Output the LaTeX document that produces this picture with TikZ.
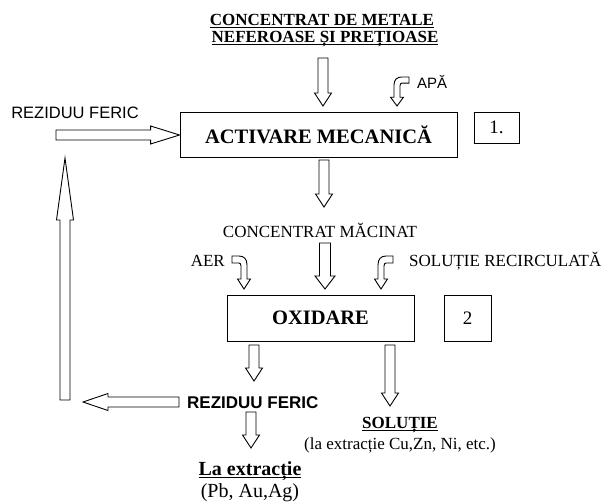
\documentclass[tikz,border=0pt]{standalone}
\usepackage{fontspec}
\setmainfont{Liberation Serif}
\newfontfamily\arialfont{Liberation Sans}
\usetikzlibrary{calc}
\newcommand{\aw}{5}
\newcommand{\ahw}{8.5}
\newcommand{\ahl}{13}
\newcommand{\ulx}[1]{\setbox0\hbox{#1}\rlap{\rule[-2.4pt]{\wd0}{1pt}}\box0}
\tikzset{
  headlen/.code={\def\ahl{#1}},
  headhw/.code={\def\ahw{#1}},
  shafthw/.code={\def\aw{#1}},
  hollow/.style={draw=black, line width=0.9pt, fill=white,
    to path={let \p1=(\tikztostart), \p2=(\tikztotarget),
      \n1={atan2(\y2-\y1,\x2-\x1)}, \n2={veclen(\x2-\x1,\y2-\y1)-\ahl} in
      ($(\p1)+(\n1+90:\aw pt)$) -- ($(\p1)+(\n1:\n2)+(\n1+90:\aw pt)$)
      -- ($(\p1)+(\n1:\n2)+(\n1+90:\ahw pt)$) -- (\p2)
      -- ($(\p1)+(\n1:\n2)+(\n1-90:\ahw pt)$) -- ($(\p1)+(\n1:\n2)+(\n1-90:\aw pt)$)
      -- ($(\p1)+(\n1-90:\aw pt)$) -- cycle}},
  procbox/.style={draw, line width=0.9pt, font=\bfseries\fontsize{20.5}{24}\selectfont},
  numbox/.style={draw, line width=0.9pt, font=\fontsize{19}{22}\selectfont},
  lbl/.style={font=\fontsize{17}{20}\selectfont, inner sep=0pt},
  title/.style={font=\bfseries\fontsize{17}{20}\selectfont, inner sep=0pt},
  bent/.style={draw=black, line width=0.9pt, fill=white},
  hook/.pic={
    \path[bent] (0,0) -- (6.5,-10) -- (3,-10) -- (3,-24) .. controls (3,-30) and (0,-33) .. (-5,-33)
      -- (-12,-33) -- (-12,-26) -- (-5,-26) .. controls (-4,-26) and (-3,-25) .. (-3,-23)
      -- (-3,-10) -- (-6.5,-10) -- cycle;
  }
}
\begin{document}
\begin{tikzpicture}[x=1pt,y=-1pt]
\useasboundingbox (0,0) rectangle (604,503);
% title
\node[title] (t1) at (322,21) {\ulx{CONCENTRAT DE METALE}};
\node[title] (t2) at (325,39) {\ulx{NEFEROASE ȘI PREȚIOASE}};
% box 1
\node[procbox, minimum width=277pt, minimum height=45pt] (act) at (318.5,134.5) {ACTIVARE MECANICĂ};
\node[numbox, minimum width=45pt, minimum height=31pt] (n1) at (496.5,127.5) {1.};
% arrow title -> act
\coordinate (a1s) at (323,58);
\coordinate (a1e) at (323,106);
\draw[hollow] (a1s) to (a1e);
% APA
\node[lbl, font=\arialfont\fontsize{15}{18}\selectfont, anchor=west] (apa) at (417,82) {APĂ};
\coordinate (apatip) at (397,106);
\pic[xscale=-1, yscale=0.88] at (apatip) {hook};
% rezidu feric top
\node[lbl, font=\arialfont\fontsize{16.5}{19}\selectfont] (rf1) at (75,113) {REZIDUU FERIC};
\coordinate (rf1s) at (56,135);
\draw[hollow, headlen=29, headhw=9] (rf1s) to (act.west |- rf1s);
% act -> concentrat macinat
\node[lbl] (cm) at (320,230) {CONCENTRAT MĂCINAT};
\coordinate (a2s) at (324,160);
\coordinate (a2e) at (324,207);
\draw[hollow] (a2s) to (a2e);
% oxidare
\node[procbox, minimum width=187pt, minimum height=46pt] (oxi) at (320.5,318) {OXIDARE};
\node[numbox, minimum width=47pt, minimum height=46pt] (n2) at (467.5,318) {2};
\coordinate (a3s) at (325,243);
\coordinate (a3e) at (325,289);
\draw[hollow, shafthw=5.5, headhw=10] (a3s) to (a3e);
% AER
\node[lbl, anchor=east] (aer) at (225,261) {AER};
\coordinate (aertip) at (244,289);
\pic at (aertip) {hook};
% SOLUTIE RECIRCULATA
\node[lbl, anchor=west] (sr) at (409,261) {SOLUȚIE RECIRCULATĂ};
\coordinate (srtip) at (381,289);
\pic[xscale=-1] at (srtip) {hook};
% outputs
\node[lbl, font=\arialfont\bfseries\fontsize{17}{20}\selectfont, anchor=west] (rf2) at (187,403) {REZIDUU FERIC};
\coordinate (o1s) at (254,345);
\coordinate (o1e) at (254,381);
\draw[hollow] (o1s) to (o1e);
\coordinate (o2s) at (390,345);
\coordinate (o2e) at (390,406);
\draw[hollow] (o2s) to (o2e);
\coordinate (l1s) at (179,402);
\coordinate (l1e) at (83,402);
\draw[hollow, headlen=25] (l1s) to (l1e);
\coordinate (up1) at (65,400);
\coordinate (up2) at (65,158);
\draw[hollow, headlen=62] (up1) to (up2);
\node[lbl, font=\bfseries\fontsize{17}{20}\selectfont] (sol) at (400,425) {\ulx{SOLUȚIE}};
\node[lbl] (solx) at (400,445) {(la extracție Cu,Zn, Ni, etc.)};
\coordinate (o3s) at (251,412);
\coordinate (o3e) at (251,448);
\draw[hollow] (o3s) to (o3e);
\node[lbl, font=\bfseries\fontsize{20}{23}\selectfont] (lae) at (250,471) {\ulx{La extracție}};
\node[lbl, font=\fontsize{20}{23}\selectfont] (pb) at (250,493) {(Pb, Au,Ag)};
\end{tikzpicture}
\end{document}
